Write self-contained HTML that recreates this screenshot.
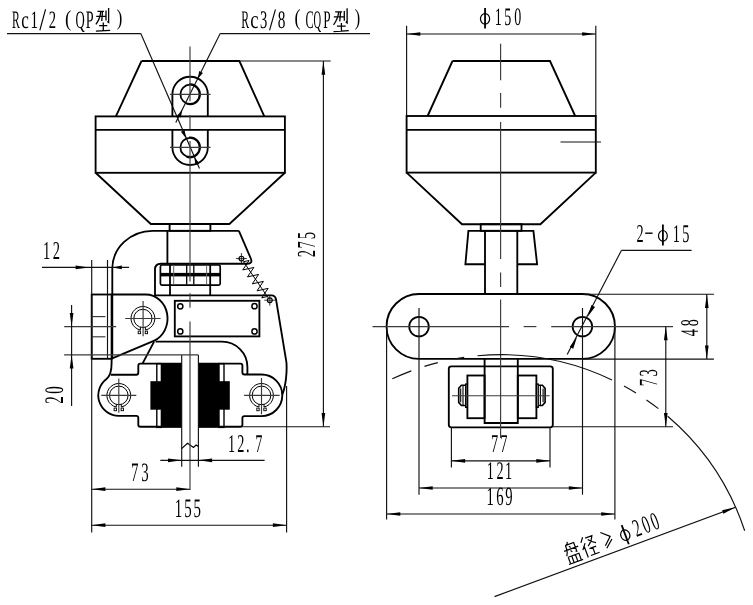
<!DOCTYPE html>
<html><head><meta charset="utf-8"><style>
html,body{margin:0;padding:0;background:#fff;-webkit-font-smoothing:antialiased;width:753px;height:605px;overflow:hidden;font-family:"Liberation Serif",serif;}
svg{display:block;will-change:transform;} text{text-rendering:geometricPrecision;}
</style></head><body>
<svg width="753" height="605" viewBox="0 0 753 605"><line x1="7.00" y1="33.60" x2="140.80" y2="33.60" stroke="#111" stroke-width="1.15" />
<line x1="140.80" y1="33.60" x2="199.50" y2="168.60" stroke="#111" stroke-width="1.15" />
<line x1="220.20" y1="33.60" x2="370.00" y2="33.60" stroke="#111" stroke-width="1.15" />
<line x1="220.20" y1="33.60" x2="175.80" y2="122.50" stroke="#111" stroke-width="1.15" />
<path d="M141.5,61 H239.4 L264.3,116.4 M115.9,116.4 L141.5,61" stroke="#000" stroke-width="1.85" fill="none" />
<rect x="95.60" y="116.40" width="189.30" height="56.40" rx="0" stroke="#000" stroke-width="1.85" fill="none"/>
<line x1="95.60" y1="129.80" x2="284.90" y2="129.80" stroke="#000" stroke-width="1.85" />
<path d="M95.6,172.8 L150.8,224 H229.4 L284.9,172.8" stroke="#000" stroke-width="1.85" fill="none" />
<path d="M172.4,116.4 V94.4 A17.7,17.7 0 0 1 207.8,94.4 V116.4 M172.4,129.8 V147.3 A17.7,17.7 0 0 0 207.8,147.3 V129.8" stroke="#000" stroke-width="1.85" fill="none" />
<circle cx="190.00" cy="94.30" r="9.60" stroke="#000" stroke-width="1.8" fill="none"/>
<path d="M189.10,84.04 A10.3,10.3 0 1 1 186.48,103.98" stroke="#000" stroke-width="1.3" fill="none" />
<circle cx="190.00" cy="147.40" r="9.60" stroke="#000" stroke-width="1.8" fill="none"/>
<path d="M189.10,137.14 A10.3,10.3 0 1 1 186.48,157.08" stroke="#000" stroke-width="1.3" fill="none" />
<line x1="170.00" y1="94.30" x2="210.50" y2="94.30" stroke="#3a3a3a" stroke-width="1.15" />
<line x1="170.00" y1="147.30" x2="210.50" y2="147.30" stroke="#3a3a3a" stroke-width="1.15" />
<path d="M185.82,137.88 L180.88,131.86 L184.72,130.17 Z" fill="#000"/>
<path d="M194.34,157.29 L199.28,163.31 L195.44,165.00 Z" fill="#000"/>
<path d="M197.74,78.72 L199.19,71.06 L202.96,72.93 Z" fill="#000"/>
<path d="M182.26,109.88 L180.81,117.54 L177.04,115.67 Z" fill="#000"/>
<rect x="169.60" y="224.00" width="40.80" height="6.80" rx="0" stroke="#000" stroke-width="1.85" fill="none"/>
<path d="M238.9,230.8 H152.6 A40.3,38 0 0 0 112.3,268.8 V358.8" stroke="#000" stroke-width="1.85" fill="none" />
<path d="M238.9,230.8 L251,259 Q252.6,263.7 247.5,263.7 H160.8 Q155,263.7 155,269.5 V295.3 H271.5 Q275.6,295.3 276.1,300 L286.4,362 C287.2,372 285.8,386 282.3,394.5" stroke="#000" stroke-width="1.85" fill="none" />
<line x1="167.40" y1="230.80" x2="167.40" y2="263.70" stroke="#000" stroke-width="1.85" />
<rect x="160.40" y="265.00" width="59.80" height="20.10" rx="1.5" stroke="#000" stroke-width="1.7" fill="none"/>
<rect x="160.40" y="272.90" width="59.80" height="3.50" fill="#000"/>
<line x1="170.00" y1="265.00" x2="170.00" y2="295.30" stroke="#000" stroke-width="1.8" />
<line x1="210.20" y1="265.00" x2="210.20" y2="295.30" stroke="#000" stroke-width="1.8" />
<line x1="173.70" y1="265.00" x2="173.70" y2="284.60" stroke="#666" stroke-width="1.0" />
<line x1="206.60" y1="265.00" x2="206.60" y2="284.60" stroke="#666" stroke-width="1.0" />
<line x1="186.70" y1="265.00" x2="186.70" y2="284.60" stroke="#000" stroke-width="1.3" />
<line x1="193.80" y1="265.00" x2="193.80" y2="284.60" stroke="#000" stroke-width="1.3" />
<rect x="91.70" y="294.50" width="19.90" height="64.30" rx="0" stroke="#000" stroke-width="1.85" fill="none"/>
<line x1="107.50" y1="260.00" x2="107.50" y2="358.80" stroke="#111" stroke-width="1.15" />
<line x1="91.70" y1="316.60" x2="105.40" y2="316.60" stroke="#3a3a3a" stroke-width="1.15" />
<line x1="91.70" y1="336.80" x2="105.40" y2="336.80" stroke="#3a3a3a" stroke-width="1.15" />
<path d="M111.6,294.5 H145.8 A21.8,24 0 0 1 153.8,340.8 L111.6,358.6" stroke="#000" stroke-width="1.85" fill="none" />
<path d="M155.6,341.6 H222 A25.4,25.4 0 0 1 247.4,367 V374.5" stroke="#000" stroke-width="1.85" fill="none" />
<path d="M154.1,341.6 L142.5,363.6" stroke="#000" stroke-width="1.85" fill="none" />
<path d="M111.6,358.8 V363 C111.6,370 109.7,376.5 106.5,378.9 A20.5,20.5 0 0 0 118.8,415.8 H136.3 Q138.3,415.8 138.3,417.8 V424.7 Q138.3,426.7 140.3,426.7 H181.7" stroke="#000" stroke-width="1.85" fill="none" />
<path d="M110.6,374.7 H136.3 Q138.3,374.7 138.3,372.7 V365.6 Q138.3,363.6 140.3,363.6 H181.7" stroke="#000" stroke-width="1.85" fill="none" />
<path d="M198.4,363.6 H240.4 Q242.4,363.6 242.4,365.6 V372.5 Q242.4,374.5 244.4,374.5 H261.5 A20.8,20.8 0 0 1 282.3,395.3 A20.8,20.8 0 0 1 261.5,416.1 H244.4 Q242.4,416.1 242.4,418.1 V424.7 Q242.4,426.7 240.4,426.7 H198.4" stroke="#000" stroke-width="1.85" fill="none" />
<rect x="156.80" y="363.60" width="4.60" height="63.80" rx="0" stroke="#000" stroke-width="1.4" fill="none"/>
<rect x="161.20" y="363.60" width="20.60" height="63.80" fill="#000"/>
<rect x="150.40" y="381.20" width="10.80" height="28.50" fill="#000"/>
<rect x="219.00" y="363.60" width="5.00" height="63.80" rx="0" stroke="#000" stroke-width="1.4" fill="none"/>
<rect x="198.40" y="363.60" width="20.60" height="63.80" fill="#000"/>
<rect x="219.00" y="381.20" width="10.80" height="28.50" fill="#000"/>
<rect x="174.80" y="300.80" width="84.60" height="35.60" rx="0" stroke="#000" stroke-width="1.85" fill="none"/>
<circle cx="180.30" cy="306.30" r="2.60" stroke="#000" stroke-width="1.5" fill="none"/>
<circle cx="180.30" cy="331.40" r="2.60" stroke="#000" stroke-width="1.5" fill="none"/>
<circle cx="254.50" cy="306.20" r="2.60" stroke="#000" stroke-width="1.5" fill="none"/>
<circle cx="254.50" cy="331.40" r="2.60" stroke="#000" stroke-width="1.5" fill="none"/>
<path d="M140.40,330.03 A11.9,11.9 0 1 1 145.40,330.03" stroke="#000" stroke-width="1.0" fill="none" />
<circle cx="142.90" cy="318.40" r="9.10" stroke="#000" stroke-width="1.0" fill="none"/>
<path d="M140.40,330.03 L140.40,327.15 M145.40,330.03 L145.40,327.15" stroke="#000" stroke-width="1.0" fill="none" />
<rect x="138.20" y="331.10" width="2.40" height="2.60" rx="0" stroke="#000" stroke-width="0.9" fill="none"/>
<rect x="145.20" y="331.10" width="2.40" height="2.60" rx="0" stroke="#000" stroke-width="0.9" fill="none"/>
<path d="M116.30,407.03 A11.9,11.9 0 1 1 121.30,407.03" stroke="#000" stroke-width="1.0" fill="none" />
<circle cx="118.80" cy="395.40" r="9.30" stroke="#000" stroke-width="1.0" fill="none"/>
<path d="M116.30,407.03 L116.30,404.36 M121.30,407.03 L121.30,404.36" stroke="#000" stroke-width="1.0" fill="none" />
<rect x="114.10" y="408.10" width="2.40" height="2.60" rx="0" stroke="#000" stroke-width="0.9" fill="none"/>
<rect x="121.10" y="408.10" width="2.40" height="2.60" rx="0" stroke="#000" stroke-width="0.9" fill="none"/>
<path d="M259.00,407.03 A11.9,11.9 0 1 1 264.00,407.03" stroke="#000" stroke-width="1.0" fill="none" />
<circle cx="261.50" cy="395.40" r="9.30" stroke="#000" stroke-width="1.0" fill="none"/>
<path d="M259.00,407.03 L259.00,404.36 M264.00,407.03 L264.00,404.36" stroke="#000" stroke-width="1.0" fill="none" />
<rect x="256.80" y="408.10" width="2.40" height="2.60" rx="0" stroke="#000" stroke-width="0.9" fill="none"/>
<rect x="263.80" y="408.10" width="2.40" height="2.60" rx="0" stroke="#000" stroke-width="0.9" fill="none"/>
<line x1="125.20" y1="318.50" x2="160.60" y2="318.50" stroke="#3a3a3a" stroke-width="1.15" />
<line x1="143.10" y1="301.10" x2="143.10" y2="336.20" stroke="#3a3a3a" stroke-width="1.15" />
<line x1="101.30" y1="395.30" x2="136.30" y2="395.30" stroke="#3a3a3a" stroke-width="1.15" />
<line x1="118.80" y1="378.40" x2="118.80" y2="412.80" stroke="#3a3a3a" stroke-width="1.15" />
<line x1="244.10" y1="395.30" x2="279.60" y2="395.30" stroke="#3a3a3a" stroke-width="1.15" />
<line x1="261.50" y1="378.00" x2="261.50" y2="414.30" stroke="#3a3a3a" stroke-width="1.15" />
<circle cx="241.40" cy="258.60" r="2.40" stroke="#000" stroke-width="1.15" fill="none"/>
<line x1="235.90" y1="258.60" x2="246.90" y2="258.60" stroke="#000" stroke-width="0.8" />
<line x1="241.40" y1="253.10" x2="241.40" y2="264.10" stroke="#000" stroke-width="0.8" />
<circle cx="269.80" cy="300.20" r="2.40" stroke="#000" stroke-width="1.15" fill="none"/>
<line x1="264.30" y1="300.20" x2="275.30" y2="300.20" stroke="#000" stroke-width="0.8" />
<line x1="269.80" y1="294.70" x2="269.80" y2="305.70" stroke="#000" stroke-width="0.8" />
<polyline points="243.53,261.72 249.10,260.48 245.91,265.21 242.72,269.94 248.29,268.69 253.86,267.45 250.67,272.18 247.48,276.91 253.05,275.66 258.62,274.42 255.43,279.15 252.24,283.88 257.81,282.63 263.37,281.39 260.19,286.12 257.00,290.85 262.57,289.60 268.13,288.36 264.95,293.09 261.76,297.82 267.32,296.57" fill="none" stroke="#000" stroke-width="1.0" stroke-linejoin="miter"/>
<line x1="243.37" y1="261.49" x2="268.17" y2="297.81" stroke="#000" stroke-width="1.0" />
<line x1="181.70" y1="354.90" x2="181.70" y2="466.70" stroke="#111" stroke-width="1.15" />
<line x1="198.40" y1="354.90" x2="198.40" y2="466.70" stroke="#111" stroke-width="1.15" />
<path d="M181.6,448.6 L187.5,443.2 L193.5,447.5 L196.1,445.1 L198.5,446.6" stroke="#000" stroke-width="1.2" fill="none" />
<line x1="190.00" y1="46.60" x2="190.00" y2="101.30" stroke="#3a3a3a" stroke-width="1.15" />
<line x1="190.00" y1="115.10" x2="190.00" y2="129.30" stroke="#3a3a3a" stroke-width="1.15" />
<line x1="190.00" y1="140.90" x2="190.00" y2="281.40" stroke="#3a3a3a" stroke-width="1.15" />
<line x1="190.00" y1="293.20" x2="190.00" y2="307.70" stroke="#3a3a3a" stroke-width="1.15" />
<line x1="190.00" y1="321.40" x2="190.00" y2="490.10" stroke="#3a3a3a" stroke-width="1.15" />
<line x1="42.00" y1="267.40" x2="129.10" y2="267.40" stroke="#111" stroke-width="1.15" />
<path d="M89.30,267.40 L75.60,269.25 L75.60,265.55 Z" fill="#000"/>
<path d="M112.30,267.40 L121.80,265.55 L121.80,269.25 Z" fill="#000"/>
<line x1="91.70" y1="260.00" x2="91.70" y2="532.50" stroke="#111" stroke-width="1.15" />
<line x1="64.20" y1="326.60" x2="116.20" y2="326.60" stroke="#3a3a3a" stroke-width="1.15" />
<line x1="64.10" y1="354.90" x2="198.40" y2="354.90" stroke="#3a3a3a" stroke-width="1.15" />
<line x1="71.60" y1="326.60" x2="71.60" y2="354.90" stroke="#111" stroke-width="1.15" />
<line x1="71.60" y1="304.90" x2="71.60" y2="326.60" stroke="#111" stroke-width="1.15" />
<path d="M71.60,326.60 L69.75,312.90 L73.45,312.90 Z" fill="#000"/>
<line x1="71.60" y1="354.90" x2="71.60" y2="406.10" stroke="#111" stroke-width="1.15" />
<path d="M71.60,354.90 L73.45,368.60 L69.75,368.60 Z" fill="#000"/>
<line x1="239.40" y1="61.00" x2="330.70" y2="61.00" stroke="#111" stroke-width="1.15" />
<line x1="242.40" y1="426.70" x2="330.00" y2="426.70" stroke="#111" stroke-width="1.15" />
<line x1="323.40" y1="61.00" x2="323.40" y2="426.70" stroke="#111" stroke-width="1.15" />
<path d="M323.40,61.00 L325.25,74.70 L321.55,74.70 Z" fill="#000"/>
<path d="M323.40,426.70 L321.55,413.00 L325.25,413.00 Z" fill="#000"/>
<line x1="160.30" y1="460.30" x2="264.60" y2="460.30" stroke="#111" stroke-width="1.15" />
<path d="M181.70,460.30 L168.00,462.15 L168.00,458.45 Z" fill="#000"/>
<path d="M198.40,460.30 L212.10,458.45 L212.10,462.15 Z" fill="#000"/>
<line x1="91.70" y1="489.20" x2="190.00" y2="489.20" stroke="#111" stroke-width="1.15" />
<path d="M91.70,489.20 L105.40,487.35 L105.40,491.05 Z" fill="#000"/>
<path d="M190.00,489.20 L176.30,491.05 L176.30,487.35 Z" fill="#000"/>
<line x1="91.70" y1="525.20" x2="286.60" y2="525.20" stroke="#111" stroke-width="1.15" />
<path d="M91.70,525.20 L105.40,523.35 L105.40,527.05 Z" fill="#000"/>
<path d="M286.60,525.20 L272.90,527.05 L272.90,523.35 Z" fill="#000"/>
<line x1="286.60" y1="386.00" x2="286.60" y2="532.50" stroke="#111" stroke-width="1.15" />
<line x1="406.60" y1="34.00" x2="595.80" y2="34.00" stroke="#111" stroke-width="1.15" />
<path d="M406.60,34.00 L420.30,32.15 L420.30,35.85 Z" fill="#000"/>
<path d="M595.80,34.00 L582.10,35.85 L582.10,32.15 Z" fill="#000"/>
<line x1="406.60" y1="25.80" x2="406.60" y2="116.00" stroke="#111" stroke-width="1.15" />
<line x1="595.80" y1="25.80" x2="595.80" y2="116.00" stroke="#111" stroke-width="1.15" />
<path d="M452.5,61 H550 L575.2,116 M427.6,116 L452.5,61" stroke="#000" stroke-width="1.85" fill="none" />
<rect x="406.60" y="116.00" width="189.20" height="56.60" rx="0" stroke="#000" stroke-width="1.85" fill="none"/>
<line x1="406.60" y1="129.80" x2="595.80" y2="129.80" stroke="#000" stroke-width="1.85" />
<path d="M406.6,172.6 L462,224.2 H540.4 L595.8,172.6" stroke="#000" stroke-width="1.85" fill="none" />
<line x1="560.50" y1="142.00" x2="601.00" y2="142.00" stroke="#111" stroke-width="1.15" />
<rect x="480.70" y="224.20" width="40.80" height="6.60" rx="0" stroke="#000" stroke-width="1.85" fill="none"/>
<path d="M485,264.2 H465.4 L468.4,230.8 H533.4 L537.1,264.2 H517.3" stroke="#000" stroke-width="1.85" fill="none" />
<path d="M485,230.8 V294 M517.3,230.8 V294" stroke="#000" stroke-width="1.85" fill="none" />
<path d="M419,294 H582.5 A32.45,32.45 0 0 1 582.5,358.9 H419 A32.45,32.45 0 0 1 419,294 Z" stroke="#000" stroke-width="1.85" fill="none" />
<circle cx="419.00" cy="326.60" r="9.80" stroke="#000" stroke-width="1.8" fill="none"/>
<circle cx="582.40" cy="326.60" r="9.80" stroke="#000" stroke-width="1.8" fill="none"/>
<rect x="448.80" y="366.30" width="104.00" height="61.00" rx="2.5" stroke="#000" stroke-width="1.85" fill="none"/>
<path d="M484.6,358.9 V423 H517.8 V358.9" stroke="#000" stroke-width="1.85" fill="none" />
<rect x="467.40" y="375.50" width="17.20" height="42.70" rx="0" stroke="#000" stroke-width="1.85" fill="none"/>
<rect x="517.80" y="375.50" width="18.60" height="42.70" rx="0" stroke="#000" stroke-width="1.85" fill="none"/>
<rect x="465.60" y="384.00" width="1.80" height="23.40" rx="0" stroke="#000" stroke-width="1.2" fill="none"/>
<path d="M465.6,385.3 H461.4 L458.7,388.4 V402.4 L461.4,405.5 H465.6" stroke="#000" stroke-width="1.6" fill="none" />
<path d="M460.7,388.6 V402.2 M463.0,386 V405" stroke="#000" stroke-width="1.1" fill="none" />
<rect x="536.40" y="384.00" width="1.90" height="23.40" rx="0" stroke="#000" stroke-width="1.2" fill="none"/>
<path d="M538.3,385.3 H542.4 L545.1,388.4 V402.4 L542.4,405.5 H538.3" stroke="#000" stroke-width="1.6" fill="none" />
<path d="M543.1,388.6 V402.2 M540.4,386 V405" stroke="#000" stroke-width="1.1" fill="none" />
<line x1="452.00" y1="395.70" x2="549.60" y2="395.70" stroke="#3a3a3a" stroke-width="1.15" />
<line x1="500.60" y1="43.80" x2="500.60" y2="80.30" stroke="#3a3a3a" stroke-width="1.15" />
<line x1="500.60" y1="92.90" x2="500.60" y2="107.80" stroke="#3a3a3a" stroke-width="1.15" />
<line x1="500.60" y1="122.00" x2="500.60" y2="259.10" stroke="#3a3a3a" stroke-width="1.15" />
<line x1="500.60" y1="272.40" x2="500.60" y2="286.90" stroke="#3a3a3a" stroke-width="1.15" />
<line x1="500.60" y1="299.60" x2="500.60" y2="438.00" stroke="#3a3a3a" stroke-width="1.15" />
<line x1="372.50" y1="326.60" x2="509.00" y2="326.60" stroke="#3a3a3a" stroke-width="1.15" />
<line x1="523.60" y1="326.60" x2="536.40" y2="326.60" stroke="#3a3a3a" stroke-width="1.15" />
<line x1="551.20" y1="326.60" x2="673.00" y2="326.60" stroke="#3a3a3a" stroke-width="1.15" />
<line x1="419.00" y1="308.00" x2="419.00" y2="494.70" stroke="#111" stroke-width="1.15" />
<line x1="582.50" y1="308.00" x2="582.50" y2="494.70" stroke="#111" stroke-width="1.15" />
<line x1="386.60" y1="328.00" x2="386.60" y2="519.60" stroke="#111" stroke-width="1.15" />
<line x1="614.90" y1="328.00" x2="614.90" y2="519.60" stroke="#111" stroke-width="1.15" />
<line x1="451.40" y1="427.30" x2="451.40" y2="467.50" stroke="#111" stroke-width="1.15" />
<line x1="550.00" y1="427.30" x2="550.00" y2="467.50" stroke="#111" stroke-width="1.15" />
<line x1="451.40" y1="460.80" x2="550.00" y2="460.80" stroke="#111" stroke-width="1.15" />
<path d="M451.40,460.80 L465.10,458.95 L465.10,462.65 Z" fill="#000"/>
<path d="M550.00,460.80 L536.30,462.65 L536.30,458.95 Z" fill="#000"/>
<line x1="419.00" y1="488.00" x2="582.50" y2="488.00" stroke="#111" stroke-width="1.15" />
<path d="M419.00,488.00 L432.70,486.15 L432.70,489.85 Z" fill="#000"/>
<path d="M582.50,488.00 L568.80,489.85 L568.80,486.15 Z" fill="#000"/>
<line x1="386.60" y1="514.00" x2="614.90" y2="514.00" stroke="#111" stroke-width="1.15" />
<path d="M386.60,514.00 L400.30,512.15 L400.30,515.85 Z" fill="#000"/>
<path d="M614.90,514.00 L601.20,515.85 L601.20,512.15 Z" fill="#000"/>
<line x1="583.00" y1="294.20" x2="713.90" y2="294.20" stroke="#111" stroke-width="1.15" />
<line x1="583.00" y1="359.10" x2="713.90" y2="359.10" stroke="#111" stroke-width="1.15" />
<line x1="706.80" y1="294.20" x2="706.80" y2="359.10" stroke="#111" stroke-width="1.15" />
<path d="M706.80,294.20 L708.65,307.90 L704.95,307.90 Z" fill="#000"/>
<path d="M706.80,359.10 L704.95,345.40 L708.65,345.40 Z" fill="#000"/>
<line x1="552.80" y1="426.70" x2="673.00" y2="426.70" stroke="#111" stroke-width="1.15" />
<line x1="665.80" y1="326.60" x2="665.80" y2="426.70" stroke="#111" stroke-width="1.15" />
<path d="M665.80,326.60 L667.65,340.30 L663.95,340.30 Z" fill="#000"/>
<path d="M665.80,426.70 L663.95,413.00 L667.65,413.00 Z" fill="#000"/>
<line x1="621.50" y1="250.30" x2="691.60" y2="250.30" stroke="#111" stroke-width="1.15" />
<line x1="621.50" y1="250.30" x2="567.20" y2="354.60" stroke="#111" stroke-width="1.15" />
<path d="M587.67,316.67 L591.44,305.10 L594.99,306.95 Z" fill="#000"/>
<path d="M576.96,337.24 L573.19,348.81 L569.64,346.96 Z" fill="#000"/>
<path d="M392.30,378.85 A256.7,256.7 0 0 1 411.30,370.88" stroke="#111" stroke-width="1.15" fill="none" />
<path d="M424.50,366.36 A256.7,256.7 0 0 1 437.80,362.60" stroke="#111" stroke-width="1.15" fill="none" />
<path d="M455.10,358.84 A256.7,256.7 0 0 1 464.20,357.35" stroke="#111" stroke-width="1.15" fill="none" />
<path d="M477.50,355.78 A256.7,256.7 0 0 1 612.00,379.94" stroke="#111" stroke-width="1.15" fill="none" />
<path d="M624.00,386.09 A256.7,256.7 0 0 1 636.00,393.07" stroke="#111" stroke-width="1.15" fill="none" />
<path d="M646.50,399.92 A256.7,256.7 0 0 1 658.40,408.62" stroke="#111" stroke-width="1.15" fill="none" />
<path d="M667.70,416.19 A256.7,256.7 0 0 1 744.70,530.75" stroke="#111" stroke-width="1.15" fill="none" />
<line x1="494.50" y1="596.60" x2="735.60" y2="507.20" stroke="#111" stroke-width="1.15" />
<path d="M735.60,507.20 L723.40,513.70 L722.11,510.23 Z" fill="#000"/>
<g font-family="Liberation Serif">
<text transform="translate(11.93,27.80) scale(0.4667,1)" font-size="25.04" fill="#000">R</text>
<text transform="translate(21.16,27.80) scale(0.6816,1)" font-size="25.04" fill="#000">c</text>
<text transform="translate(30.58,27.80) scale(0.6005,1)" font-size="25.04" fill="#000">1</text>
<text transform="translate(39.30,30.18) scale(0.7858,1)" font-size="31.64" fill="#000" >/</text>
<text transform="translate(48.78,27.80) scale(0.5854,1)" font-size="25.04" fill="#000">2</text>
<text transform="translate(75.49,27.80) scale(0.5105,1)" font-size="25.04" fill="#000">Q</text>
<text transform="translate(85.71,27.80) scale(0.5624,1)" font-size="25.04" fill="#000">P</text>
<text transform="translate(65.11,25.65) scale(0.8172,1)" font-size="22.81" fill="#000" >(</text>
<text transform="translate(116.86,25.20) scale(0.7392,1)" font-size="22.59" fill="#000" >)</text>
<text transform="translate(241.18,27.90) scale(0.4642,1)" font-size="25.34" fill="#000">R</text>
<text transform="translate(250.30,27.90) scale(0.7365,1)" font-size="25.34" fill="#000">c</text>
<text transform="translate(260.11,27.90) scale(0.5739,1)" font-size="25.34" fill="#000">3</text>
<text transform="translate(269.10,29.79) scale(0.8087,1)" font-size="31.19" fill="#000" >/</text>
<text transform="translate(277.83,27.90) scale(0.6035,1)" font-size="25.34" fill="#000">8</text>
<text transform="translate(305.51,27.90) scale(0.4825,1)" font-size="25.34" fill="#000">C</text>
<text transform="translate(313.48,27.90) scale(0.4153,1)" font-size="25.34" fill="#000">Q</text>
<text transform="translate(323.34,27.90) scale(0.5234,1)" font-size="25.34" fill="#000">P</text>
<text transform="translate(294.44,25.21) scale(0.7757,1)" font-size="23.03" fill="#000" >(</text>
<text transform="translate(354.77,25.21) scale(0.7082,1)" font-size="23.03" fill="#000" >)</text>
<text transform="translate(42.98,258.50) scale(0.5600,1)" font-size="25.83" fill="#000">1</text><text transform="translate(52.67,258.50) scale(0.5600,1)" font-size="25.83" fill="#000">2</text>
<text transform="translate(227.88,451.90) scale(0.5600,1)" font-size="25.53" fill="#000">1</text><text transform="translate(237.37,451.90) scale(0.5600,1)" font-size="25.53" fill="#000">2</text><text transform="translate(245.91,451.90) scale(0.5600,1)" font-size="25.53" fill="#000">.</text><text transform="translate(255.36,451.90) scale(0.5600,1)" font-size="25.53" fill="#000">7</text>
<text transform="translate(131.00,480.80) scale(0.5600,1)" font-size="26.59" fill="#000">7</text><text transform="translate(141.22,480.80) scale(0.5600,1)" font-size="26.59" fill="#000">3</text>
<text transform="translate(174.87,516.90) scale(0.5600,1)" font-size="26.59" fill="#000">1</text><text transform="translate(184.20,516.90) scale(0.5600,1)" font-size="26.59" fill="#000">5</text><text transform="translate(193.45,516.90) scale(0.5600,1)" font-size="26.59" fill="#000">5</text>
<text transform="translate(494.65,24.70) scale(0.5600,1)" font-size="25.08" fill="#000">1</text><text transform="translate(504.17,24.70) scale(0.5600,1)" font-size="25.08" fill="#000">5</text><text transform="translate(514.34,24.70) scale(0.5600,1)" font-size="25.08" fill="#000">0</text>
<text transform="translate(491.04,451.90) scale(0.5600,1)" font-size="25.68" fill="#000">7</text><text transform="translate(500.19,451.90) scale(0.5600,1)" font-size="25.68" fill="#000">7</text>
<text transform="translate(486.70,478.80) scale(0.5600,1)" font-size="25.38" fill="#000">1</text><text transform="translate(496.44,478.80) scale(0.5600,1)" font-size="25.38" fill="#000">2</text><text transform="translate(504.95,478.80) scale(0.5600,1)" font-size="25.38" fill="#000">1</text>
<text transform="translate(486.62,505.40) scale(0.5600,1)" font-size="26.28" fill="#000">1</text><text transform="translate(496.13,505.40) scale(0.5600,1)" font-size="26.28" fill="#000">6</text><text transform="translate(505.28,505.40) scale(0.5600,1)" font-size="26.28" fill="#000">9</text>
<text transform="translate(636.52,241.80) scale(0.5600,1)" font-size="25.53" fill="#000">2</text>
<text transform="translate(672.83,241.80) scale(0.5600,1)" font-size="25.53" fill="#000">1</text><text transform="translate(682.20,241.80) scale(0.5600,1)" font-size="25.53" fill="#000">5</text>
<line x1="645.20" y1="233.20" x2="652.60" y2="233.20" stroke="#000" stroke-width="1.4" />
<g transform="rotate(-90)"><text transform="translate(-257.35,314.70) scale(0.5600,1)" font-size="25.98" fill="#000">2</text><text transform="translate(-248.51,314.70) scale(0.5600,1)" font-size="25.98" fill="#000">7</text><text transform="translate(-239.16,314.70) scale(0.5600,1)" font-size="25.98" fill="#000">5</text></g>
<g transform="rotate(-90)"><text transform="translate(-403.65,63.10) scale(0.5600,1)" font-size="26.74" fill="#000">2</text><text transform="translate(-393.84,63.10) scale(0.5600,1)" font-size="26.74" fill="#000">0</text></g>
<g transform="rotate(-90)"><text transform="translate(-336.19,697.60) scale(0.5600,1)" font-size="25.38" fill="#000">4</text><text transform="translate(-326.15,697.60) scale(0.5600,1)" font-size="25.38" fill="#000">8</text></g>
<g transform="rotate(-90)"><text transform="translate(-386.33,657.10) scale(0.5600,1)" font-size="26.13" fill="#000">7</text><text transform="translate(-376.61,657.10) scale(0.5600,1)" font-size="26.13" fill="#000">3</text></g>
</g>
<ellipse cx="485.05" cy="18.85" rx="4.6" ry="5.3" fill="none" stroke="#000" stroke-width="1.2"/>
<line x1="485.05" y1="8.10" x2="485.05" y2="28.50" stroke="#000" stroke-width="1.8" />
<ellipse cx="662.9" cy="235.9" rx="4.4" ry="5.4" fill="none" stroke="#000" stroke-width="1.2"/>
<line x1="662.90" y1="224.50" x2="662.90" y2="245.50" stroke="#000" stroke-width="1.8" />
<path d="M97.47,11.41 L103.91,11.41 M96.19,16.43 L105.77,16.43 M100.76,11.41 Q100.19,18.56 95.90,24.49 M102.48,11.41 L101.76,20.94 M106.00,10.60 L106.00,20.39 M108.63,7.90 L108.63,22.50 L107.34,21.50 M99.10,25.70 L107.30,25.70 M103.29,22.50 L103.29,30.51 M95.90,31.20 L110.20,30.30" stroke="#000" stroke-width="1.3" fill="none" />
<path d="M335.18,11.81 L342.07,11.81 M333.81,16.83 L344.06,16.83 M338.70,11.81 Q338.09,18.96 333.50,24.89 M340.54,11.81 L339.77,21.34 M344.30,11.00 L344.30,20.79 M347.12,8.30 L347.12,22.90 L345.74,21.90 M336.93,26.10 L345.69,26.10 M341.41,22.90 L341.41,30.91 M333.50,31.60 L348.80,30.70" stroke="#000" stroke-width="1.3" fill="none" />
<g transform="translate(494.5,596.6) rotate(-20.345)"><path d="M87.30,-26.00 L85.80,-23.24 M84.00,-23.24 L93.00,-23.24 L93.00,-14.04 L91.80,-14.50 M84.30,-23.24 Q84.30,-15.65 81.75,-12.66 M87.30,-21.40 L88.50,-19.56 M81.00,-18.18 L96.00,-18.18 M87.30,-16.80 L88.50,-14.96 M82.80,-11.28 L82.80,-4.84 M82.80,-11.28 L94.20,-11.28 L94.20,-4.84 M86.55,-11.28 L86.55,-4.84 M90.45,-11.28 L90.45,-4.84 M81.00,-4.15 L96.00,-4.15" stroke="#000" stroke-width="1.2" fill="none"/><path d="M103.20,-25.00 L99.75,-20.38 M103.50,-18.70 L99.00,-12.82 M101.55,-15.55 L101.55,-4.00 M105.30,-23.32 L112.50,-23.32 Q109.50,-17.02 105.30,-14.92 M107.25,-21.22 Q110.25,-17.02 114.00,-15.34 M105.75,-11.98 L112.80,-11.98 M109.20,-11.98 L109.20,-5.26 M104.70,-5.05 L114.00,-5.05" stroke="#000" stroke-width="1.2" fill="none"/><path d="M121.5,-23.3 L129.4,-16.3 L121.7,-9.2 M130.1,-13.2 L122.1,-6.3" stroke="#000" stroke-width="1.2" fill="none"/><ellipse cx="144" cy="-12.2" rx="4.5" ry="5.4" fill="none" stroke="#000" stroke-width="1.2"/><line x1="144.1" y1="-22.8" x2="144.1" y2="-2.4" stroke="#000" stroke-width="1.8"/><g font-family="Liberation Serif"><text transform="translate(153.86,-6.60) scale(0.5600,1)" font-size="25.23" fill="#000">2</text><text transform="translate(163.37,-6.60) scale(0.5600,1)" font-size="25.23" fill="#000">0</text><text transform="translate(172.77,-6.60) scale(0.5600,1)" font-size="25.23" fill="#000">0</text></g></g></svg>
</body></html>
